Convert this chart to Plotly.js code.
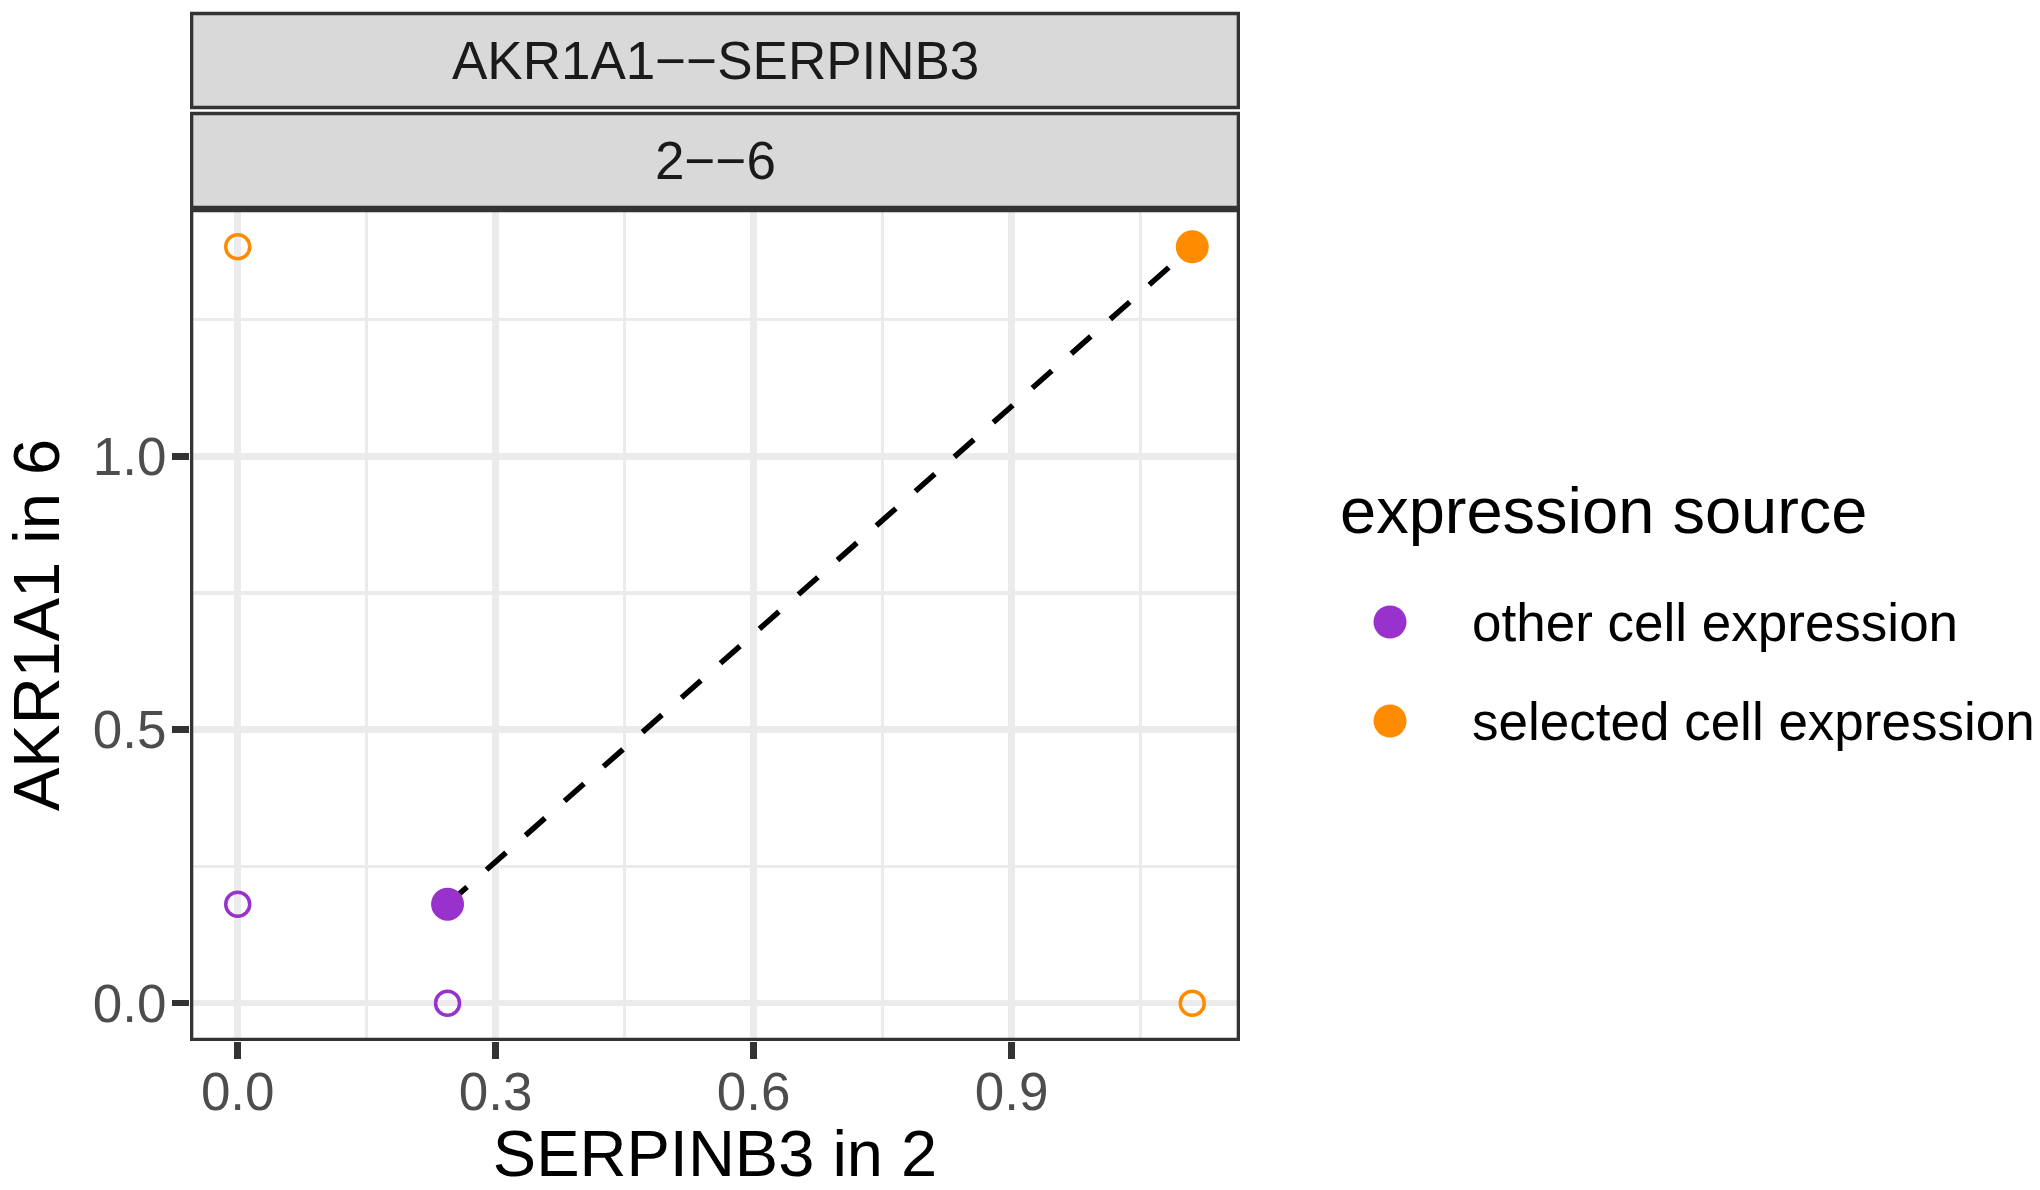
<!DOCTYPE html>
<html><head><meta charset="utf-8">
<script src="https://cdn.plot.ly/plotly-3.0.1.min.js"></script>
<style>html,body{margin:0;padding:0;background:#fff}</style>
</head><body><div id="chart" style="width:2040px;height:1190px"></div>
<script>
// ---- data ----
const sources = ['other cell expression', 'selected cell expression'];
const sourceColors = ['#9932CC', '#FF8C00'];
const serpinb3In2 = [0.244, 1.110];   // x: SERPINB3 expression in cluster 2
const akr1a1In6 = [0.181, 1.383];     // y: AKR1A1 expression in cluster 6
const stripLabels = ['AKR1A1\u2212\u2212SERPINB3', '2\u2212\u22126'];
const xTitle = 'SERPINB3 in 2';
const yTitle = 'AKR1A1 in 6';
const legendTitle = 'expression source';

// ---- layout helpers (pixels -> paper) ----
const W = 2040, H = 1190;
const px = v => v / W;
const py = v => 1 - v / H;
const P = {L: 190, R: 1240, T: 209, B: 1041};
const FONT = 'Liberation Sans, Arial, Helvetica, sans-serif';
const SMALL = 53, BIG = 65;

function expand(vals) {
  const lo = Math.min(0, ...vals), hi = Math.max(...vals);
  const d = (hi - lo) * 0.05;
  return [lo - d, hi + d];
}

const traces = [];
// dashed connector between the two filled points
traces.push({
  x: serpinb3In2, y: akr1a1In6, mode: 'lines', showlegend: false, hoverinfo: 'skip',
  line: {color: '#000000', width: 5.5, dash: '26px,26px'}
});
// open circles (projections onto the axes)
sources.forEach((s, i) => {
  traces.push({
    x: [0, serpinb3In2[i]], y: [akr1a1In6[i], 0], mode: 'markers', showlegend: false,
    marker: {symbol: 'circle-open', size: 24, color: sourceColors[i], line: {width: 3.5, color: sourceColors[i]}},
    name: s
  });
});
// filled points
sources.forEach((s, i) => {
  traces.push({
    x: [serpinb3In2[i]], y: [akr1a1In6[i]], mode: 'markers', showlegend: false,
    marker: {symbol: 'circle', size: 33, color: sourceColors[i]},
    name: s
  });
});
// legend keys on their own small axes
traces.push({
  x: sources.map(() => 0), y: sources, xaxis: 'x2', yaxis: 'y2', mode: 'markers', showlegend: false,
  marker: {symbol: 'circle', size: 33, color: sourceColors}, hoverinfo: 'skip'
});

const shapes = [];
const strips = [[13.5, 107.5], [113.5, 207.5]];
strips.forEach(s => shapes.push({
  type: 'rect', xref: 'paper', yref: 'paper', layer: 'below',
  x0: px(P.L + 1.65), x1: px(P.R - 1.65), y0: py(s[1]), y1: py(s[0]),
  fillcolor: '#D9D9D9', line: {color: '#333333', width: 3.3}
}));
shapes.push({
  type: 'rect', xref: 'paper', yref: 'paper', layer: 'above',
  x0: px(P.L + 1.65), x1: px(P.R - 1.65), y0: py(P.B - 1.65), y1: py(P.T + 1.65),
  fillcolor: 'rgba(0,0,0,0)', line: {color: '#333333', width: 3.3}
});

const annotations = [];
stripLabels.forEach((t, i) => annotations.push({
  text: t, xref: 'paper', yref: 'paper', x: px((P.L + P.R) / 2), y: py((strips[i][0] + strips[i][1]) / 2),
  xanchor: 'center', yanchor: 'middle', showarrow: false,
  font: {family: FONT, size: SMALL, color: '#1A1A1A'}
}));
annotations.push({
  text: legendTitle, xref: 'paper', yref: 'paper', x: px(1338), y: py(510),
  xanchor: 'left', yanchor: 'middle', showarrow: false,
  font: {family: FONT, size: BIG, color: '#000000'}
});
sources.forEach((s, i) => annotations.push({
  text: s, xref: 'paper', yref: 'y2', x: px(1470), y: i,
  xanchor: 'left', yanchor: 'middle', showarrow: false,
  font: {family: FONT, size: SMALL, color: '#000000'}
}));

const axisCommon = {
  showgrid: true, gridcolor: '#EBEBEB', gridwidth: 6.5,
  zeroline: false, showline: false, automargin: false,
  ticks: 'outside', ticklen: 17, tickwidth: 6.5, tickcolor: '#333333',
  tickfont: {family: FONT, size: SMALL, color: '#4D4D4D'},
  tickformat: '.1f', fixedrange: true
};

const layout = {
  width: W, height: H,
  margin: {l: 0, r: 0, t: 0, b: 0},
  paper_bgcolor: '#FFFFFF', plot_bgcolor: '#FFFFFF',
  font: {family: FONT},
  showlegend: false,
  xaxis: Object.assign({}, axisCommon, {
    domain: [px(P.L), px(P.R)], range: expand(serpinb3In2), tick0: 0, dtick: 0.3,
    ticklabelstandoff: -13,
    minor: {tick0: 0, dtick: 0.15, showgrid: true, gridcolor: '#EBEBEB', gridwidth: 3.3, ticks: ''},
    title: {text: xTitle, font: {family: FONT, size: BIG, color: '#000000'}, standoff: 29}
  }),
  yaxis: Object.assign({}, axisCommon, {
    domain: [py(P.B), py(P.T)], range: expand(akr1a1In6), tick0: 0, dtick: 0.5,
    ticklabelstandoff: -5,
    minor: {tick0: 0, dtick: 0.25, showgrid: true, gridcolor: '#EBEBEB', gridwidth: 3.3, ticks: ''},
    title: {text: yTitle, font: {family: FONT, size: BIG, color: '#000000'}, standoff: 23}
  }),
  xaxis2: {domain: [px(1360), px(1420)], range: [-1, 1], anchor: 'y2', visible: false, fixedrange: true},
  yaxis2: {domain: [py(770.5), py(572.5)], type: 'category', range: [1.5, -0.5], anchor: 'x2', visible: false, fixedrange: true},
  shapes: shapes,
  annotations: annotations
};

Plotly.newPlot('chart', traces, layout, {displayModeBar: false, staticPlot: true});
</script>
</body></html>
